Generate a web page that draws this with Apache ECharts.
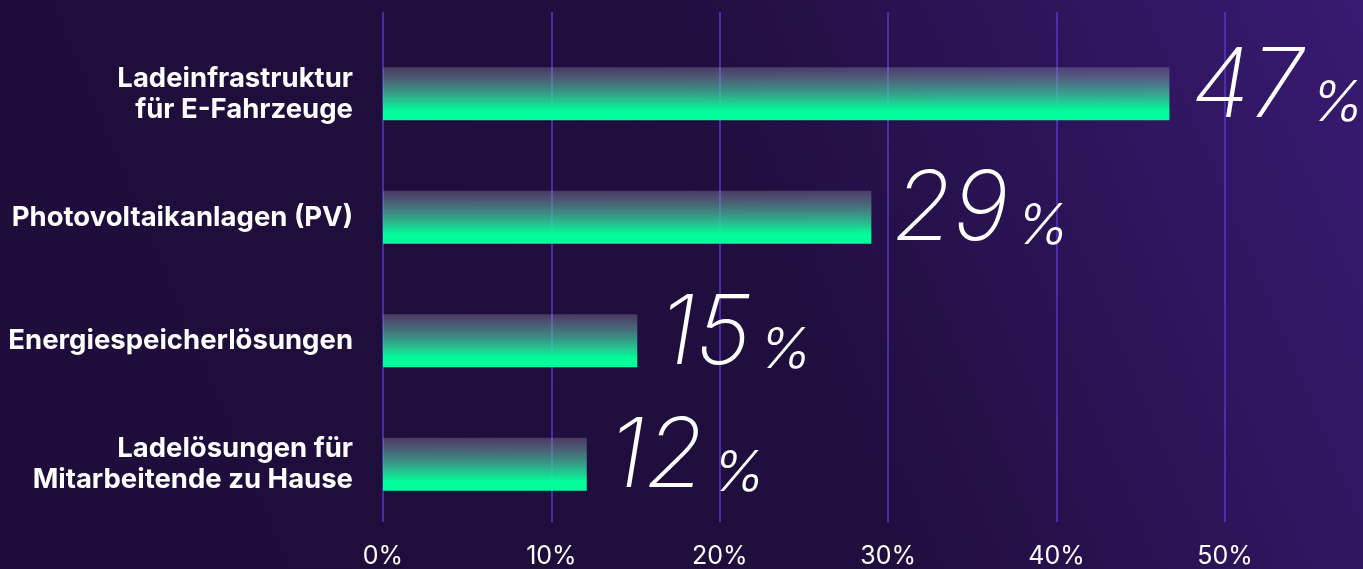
<!DOCTYPE html>
<html><head><meta charset="utf-8">
<script src="https://cdn.jsdelivr.net/npm/echarts@6/dist/echarts.min.js"></script>
<style>html,body{margin:0;padding:0;background:#1e0d3a;}#c{width:1363px;height:569px;}</style>
</head><body><div id="c"></div>
<script>
const categories = ['Ladeinfrastruktur\nfür E-Fahrzeuge','Photovoltaikanlagen (PV)','Energiespeicherlösungen','Ladelösungen für\nMitarbeitende zu Hause'];
const values = [46.7, 29, 15.1, 12.1];
const valueLabels = ['47','29','15','12'];
const xTicks = [0,10,20,30,40,50];

const chart = echarts.init(document.getElementById('c'));
chart.setOption({
  backgroundColor: new echarts.graphic.LinearGradient(0,1,1,0,[
    {offset:0,color:'#1e0d3a'},{offset:0.55,color:'#200e3e'},{offset:1,color:'#381a72'}]),
  animation:false,
  grid:[
    {left:383,width:842,top:32,height:494},
    {left:383,width:842,top:12,bottom:46}
  ],
  xAxis:[
    {gridIndex:0,type:'value',min:0,max:50,interval:10,axisLabel:{show:false},splitLine:{show:false},axisLine:{show:false},axisTick:{show:false}},
    {gridIndex:1,type:'value',min:0,max:50,interval:10,
      axisLabel:{color:'#ffffff',fontFamily:'Inter',fontSize:25,margin:22,formatter:v=>v+'%'},
      splitLine:{show:true,lineStyle:{color:'#5a36c8',width:1.5}},
      axisLine:{show:false},axisTick:{show:false}}
  ],
  yAxis:[
    {gridIndex:0,type:'category',inverse:true,data:categories,
      axisLine:{show:false},axisTick:{show:false},
      axisLabel:{color:'#ffffff',fontFamily:'Inter',fontWeight:700,fontSize:27.5,lineHeight:31,margin:30,align:'right'}},
    {gridIndex:1,type:'value',show:false}
  ],
  series:[{
    type:'bar',xAxisIndex:0,yAxisIndex:0,barWidth:53,
    data:values.map((v,i)=>({value:v,label:{formatter:'{n|'+valueLabels[i]+'}{p|%}'}})),
    itemStyle:{color:new echarts.graphic.LinearGradient(0,0,0,1,[
      {offset:0,color:'rgba(150,140,170,0.35)'},
      {offset:0.82,color:'#02fd9a'},
      {offset:1,color:'#02fd9a'}])},
    label:{show:true,position:'right',distance:22,offset:[0,-6],
      rich:{
        n:{fontFamily:'Inter',fontStyle:'italic',fontWeight:200,fontSize:96,color:'#ffffff',verticalAlign:'bottom',lineHeight:96},
        p:{fontFamily:'Inter',fontStyle:'italic',fontWeight:300,fontSize:56,color:'#ffffff',verticalAlign:'bottom',padding:[0,0,4,8]}
      }}
  }]
});
</script></body></html>
